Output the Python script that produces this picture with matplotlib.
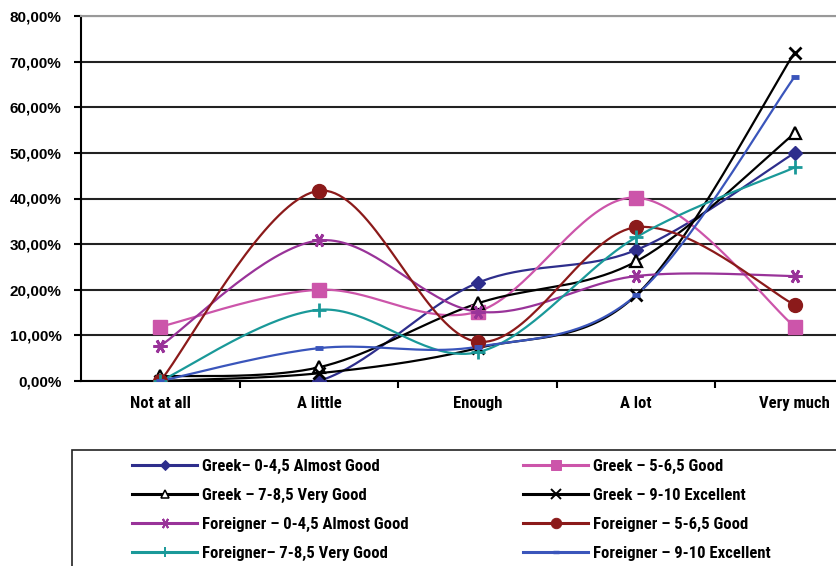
import numpy as np
import matplotlib
matplotlib.use("Agg")
import matplotlib.pyplot as plt
from matplotlib.patches import Rectangle
from matplotlib.ticker import FuncFormatter, FixedLocator
from matplotlib import font_manager

categories = ["Not at all", "A little", "Enough", "A lot", "Very much"]

greek_0_45 = [0.0, 0.0, 21.5, 28.7, 50.0]
greek_5_65 = [11.9, 20.0, 15.2, 40.2, 11.9]
greek_7_85 = [1.0, 3.0, 17.0, 26.2, 54.3]
greek_9_10 = [0.0, 1.7, 7.2, 18.8, 72.0]
foreign_0_45 = [7.7, 30.8, 15.2, 23.0, 23.0]
foreign_5_65 = [0.0, 41.7, 8.6, 33.7, 16.7]
foreign_7_85 = [0.0, 15.6, 6.3, 31.5, 46.8]
foreign_9_10 = [0.0, 7.2, 7.5, 18.8, 66.7]

labels = [
    "Greek– 0-4,5 Almost Good", "Greek – 5-6,5 Good",
    "Greek – 7-8,5 Very Good", "Greek – 9-10 Excellent",
    "Foreigner – 0-4,5 Almost Good", "Foreigner – 5-6,5 Good",
    "Foreigner– 7-8,5 Very Good", "Foreigner – 9-10 Excellent",
]
series = [greek_0_45, greek_5_65, greek_7_85, greek_9_10,
          foreign_0_45, foreign_5_65, foreign_7_85, foreign_9_10]

styles = [
    dict(color="#2E2E8C", marker="D", ms=7, mfc="#2E2E8C", mew=1),
    dict(color="#CC55AA", marker="s", ms=10, mfc="#CC55AA", mew=1),
    dict(color="#000000", marker="^", ms=8, mfc="white", mew=1.6),
    dict(color="#000000", marker="x", ms=9, mfc="none", mew=2),
    dict(color="#993399", marker=(6, 2, 90), ms=10, mfc="#993399", mew=2),
    dict(color="#8B1A1A", marker="o", ms=10, mfc="#8B1A1A", mew=1),
    dict(color="#1A9999", marker="+", ms=10, mfc="none", mew=2),
    dict(color="#3A55BB", marker="_", ms=6, mfc="#3A55BB", mew=3.5),
]

# pick a condensed family if one is installed
names = sorted({f.name for f in font_manager.fontManager.ttflist})
narrow = None
for cand in ["Liberation Sans Narrow", "DejaVu Sans Condensed", "Roboto Condensed",
             "Open Sans Condensed", "Noto Sans Condensed"]:
    if cand in names:
        narrow = cand
        break
if narrow is None:
    cond = [n for n in names if "Narrow" in n or "Condensed" in n]
    narrow = cond[0] if cond else None
if narrow:
    cond_family = [narrow, "Liberation Sans", "DejaVu Sans"]
    cond_size = 12
else:
    cond_family = ["Liberation Sans", "DejaVu Sans"]
    cond_size = 10.5


def smooth(xs, ys, n=40):
    xs = np.asarray(xs, float)
    ys = np.asarray(ys, float)
    px = np.concatenate([[xs[0]], xs, [xs[-1]]])
    py = np.concatenate([[ys[0]], ys, [ys[-1]]])
    outx, outy = [], []
    t = np.linspace(0, 1, n)
    for i in range(1, len(px) - 2):
        p0 = np.array([px[i], py[i]])
        p3 = np.array([px[i + 1], py[i + 1]])
        c1 = p0 + (np.array([px[i + 1], py[i + 1]]) - np.array([px[i - 1], py[i - 1]])) / 6
        c2 = p3 - (np.array([px[i + 2], py[i + 2]]) - np.array([px[i], py[i]])) / 6
        b = ((1 - t) ** 3)[:, None] * p0 + (3 * (1 - t) ** 2 * t)[:, None] * c1 \
            + (3 * (1 - t) * t ** 2)[:, None] * c2 + (t ** 3)[:, None] * p3
        outx.extend(b[:, 0])
        outy.extend(b[:, 1])
    return np.array(outx), np.array(outy)


W, H = 836, 566
fig = plt.figure(figsize=(W / 100, H / 100), dpi=100)
ax = fig.add_axes([81 / W, 1 - 381 / H, (874 - 81) / W, (381 - 16) / H])

x = np.arange(1, len(categories) + 1)
handles = []
for ys, st, lab in zip(series, styles, labels):
    sx, sy = smooth(x, ys)
    ax.plot(sx, sy, color=st["color"], lw=1.6, solid_capstyle="round", zorder=3)
    ax.plot(x, ys, linestyle="none", marker=st["marker"], ms=st["ms"],
            mfc=st["mfc"], mec=st["color"], mew=st["mew"], zorder=4)
    h, = ax.plot([], [], color=st["color"], lw=2.2, marker=st["marker"],
                 ms=st["ms"] * 0.75, mfc=st["mfc"], mec=st["color"], mew=st["mew"] * 0.7)
    handles.append(h)

ax.set_xlim(0.5, len(categories) + 0.5)
ax.set_ylim(0, 80)
ax.set_yticks(np.arange(0, 81, 10))
ax.yaxis.set_major_formatter(FuncFormatter(lambda v, p: f"{v:.2f}%".replace(".", ",")))
ax.set_xticks(x)
ax.set_xticklabels(categories)
ax.xaxis.set_minor_locator(FixedLocator(np.arange(1.5, len(categories), 1.0)))
ax.tick_params(axis="x", which="major", length=0, pad=11)
ax.tick_params(axis="x", which="minor", length=5, width=1.5, direction="out")
ax.tick_params(axis="y", length=5, width=1.5, direction="out", pad=9)
for lbl in ax.get_yticklabels():
    lbl.set_fontweight("bold")
    lbl.set_fontsize(11)
    lbl.set_family(["Liberation Sans", "DejaVu Sans"])
for lbl in ax.get_xticklabels():
    lbl.set_fontweight("bold")
    lbl.set_fontsize(cond_size)
    lbl.set_family(cond_family)

ax.grid(axis="y", color="#222222", lw=1.5, zorder=1)
ax.set_axisbelow(True)
ax.spines["top"].set_color("#999999")
ax.spines["top"].set_linewidth(1.5)
ax.spines["right"].set_visible(False)
ax.spines["left"].set_linewidth(1.5)
ax.spines["bottom"].set_linewidth(1.5)

fig.patches.append(Rectangle((72 / W, -0.05), (900 - 72) / W, (0.05 + 1 - 450 / H),
                             transform=fig.transFigure, fill=False, ec="#222222", lw=1.2))

prop = dict(family=cond_family, weight="bold", size=cond_size)
fs_px = cond_size * 100 / 72
text_h = 0.9 * fs_px
common = dict(loc="upper left", frameon=False, prop=prop,
              handlelength=65 / fs_px, handletextpad=5 / fs_px,
              labelspacing=(29 - text_h) / fs_px, borderaxespad=0, borderpad=0)
left_idx = [0, 2, 4, 6]
right_idx = [1, 3, 5, 7]
top_y = 1 - (465 - 0.6 * fs_px + 4) / H
leg1 = fig.legend([handles[i] for i in left_idx], [labels[i] for i in left_idx],
                  bbox_to_anchor=(132 / W, top_y), **common)
leg2 = fig.legend([handles[i] for i in right_idx], [labels[i] for i in right_idx],
                  bbox_to_anchor=(523 / W, top_y), **common)

fig.savefig("out.png", dpi=100)
